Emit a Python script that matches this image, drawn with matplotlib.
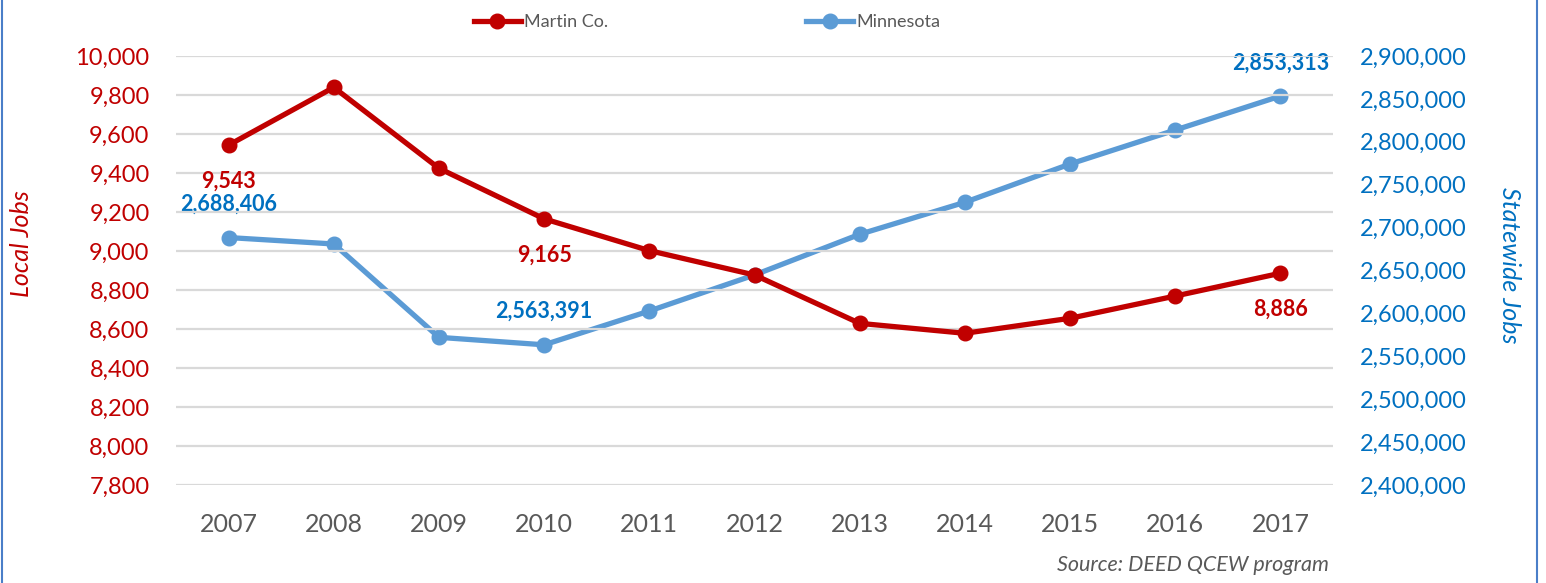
import matplotlib
matplotlib.use("Agg")
import matplotlib.pyplot as plt
from matplotlib.lines import Line2D
from matplotlib.ticker import FuncFormatter, MultipleLocator

years = ["2007", "2008", "2009", "2010", "2011", "2012", "2013", "2014", "2015", "2016", "2017"]
martin = [9543, 9839, 9424, 9165, 9002, 8877, 8629, 8578, 8655, 8769, 8886]
minnesota = [2688406, 2680900, 2572100, 2563391, 2602800, 2644800, 2692200,
             2729500, 2774100, 2813700, 2853313]
martin_labels = {0: "9,543", 3: "9,165", 10: "8,886"}
mn_labels = {0: "2,688,406", 3: "2,563,391", 10: "2,853,313"}

RED = "#C00000"
BLUE_LINE = "#5B9BD5"
BLUE_TXT = "#0070C0"
GRAY = "#595959"
FONT = "Lato"

plt.rcParams['font.family'] = [FONT, 'DejaVu Sans']

W, H = 1546, 583
fig = plt.figure(figsize=(W / 100, H / 100), dpi=100)
ax = fig.add_axes([176 / W, 1 - 485 / H, (1333 - 176) / W, (485 - 56) / H])
ax2 = ax.twinx()

x = list(range(len(years)))
ax.set_xlim(-0.5, len(years) - 0.5)
ax.set_ylim(7800, 10000)
ax2.set_ylim(2400000, 2900000)
ax.yaxis.set_major_locator(MultipleLocator(200))
ax2.yaxis.set_major_locator(MultipleLocator(50000))
ax.grid(axis='y', color="#D9D9D9", linewidth=1.6)
ax.set_axisbelow(True)
for a in (ax, ax2):
    for s in a.spines.values():
        s.set_visible(False)

fmt = FuncFormatter(lambda v, p: f"{v:,.0f}")
ax.yaxis.set_major_formatter(fmt)
ax2.yaxis.set_major_formatter(fmt)
ax.tick_params(axis='y', length=0, pad=19, labelsize=17, labelcolor=RED)
ax2.tick_params(axis='y', length=0, pad=19, labelsize=17, labelcolor=BLUE_TXT)
ax.set_xticks(x)
ax.set_xticklabels(years)
ax.tick_params(axis='x', length=0, pad=20, labelsize=18, labelcolor=GRAY)

ax2.plot(x, minnesota, color=BLUE_LINE, linewidth=3.8, marker='o', markersize=10.5, zorder=3)
ax.plot(x, martin, color=RED, linewidth=3.8, marker='o', markersize=10.5, zorder=4)
ax.set_zorder(ax2.get_zorder() + 1)
ax.patch.set_visible(False)

for i, t in martin_labels.items():
    ax.annotate(t, (x[i], martin[i]), xytext=(0, -26), textcoords='offset points',
                ha='center', va='center', color=RED, fontsize=15.5, fontweight='bold')
for i, t in mn_labels.items():
    ax2.annotate(t, (x[i], minnesota[i]), xytext=(0, 24), textcoords='offset points',
                 ha='center', va='center', color=BLUE_TXT, fontsize=15.5, fontweight='bold')

fig.text(22 / W, 1 - 244 / H, "Local Jobs", rotation=90, ha='center', va='center',
         color=RED, fontsize=18, style='italic')
fig.text(1509 / W, 1 - 265 / H, "Statewide Jobs", rotation=-90, ha='center', va='center',
         color=BLUE_TXT, fontsize=18, style='italic')
fig.text(1329 / W, 1 - 565 / H, "Source: DEED QCEW program", ha='right', va='center',
         color=GRAY, fontsize=15.5, style='italic')

handles = [Line2D([], [], color=RED, linewidth=3.8, marker='o', markersize=10.5),
           Line2D([], [], color=BLUE_LINE, linewidth=3.8, marker='o', markersize=10.5)]
leg = fig.legend(handles, ["Martin Co.", "Minnesota"], loc='center',
                 bbox_to_anchor=(707 / W, 1 - 22 / H), ncol=2, frameon=False,
                 fontsize=13, handlelength=2.6, handletextpad=0.15, columnspacing=11.0)
for t in leg.get_texts():
    t.set_color(GRAY)

fig.add_artist(Line2D([1.5 / W, 1.5 / W], [0, 1], color="#4A7EC8", linewidth=1.5))
fig.add_artist(Line2D([1537 / W, 1537 / W], [0, 1], color="#4A7EC8", linewidth=1.5))

fig.savefig("out.png", dpi=100)
